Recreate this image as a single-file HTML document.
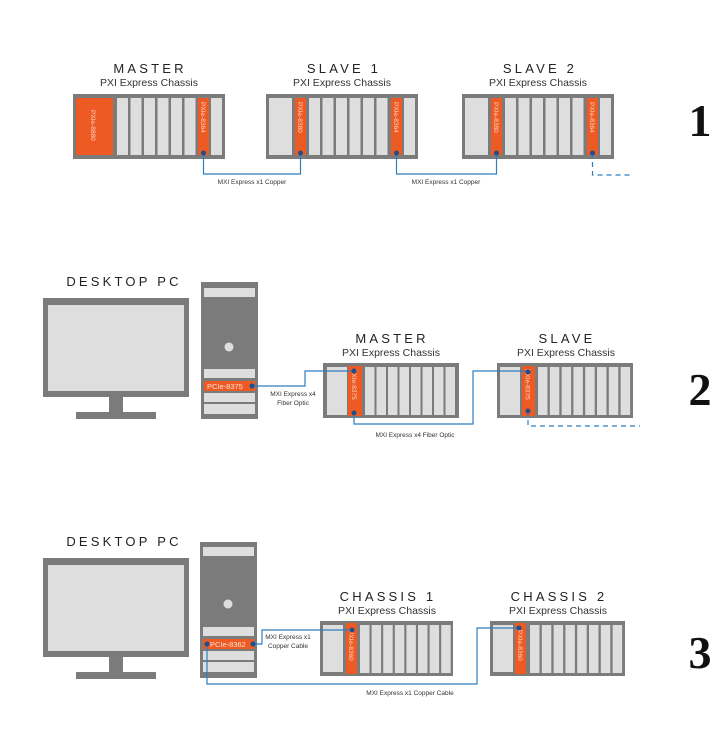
<!DOCTYPE html>
<html><head><meta charset="utf-8"><style>
html,body{margin:0;padding:0;background:#fff;width:723px;height:756px;overflow:hidden}
svg{display:block}
.t{font-family:"Liberation Sans",sans-serif;font-size:13px;letter-spacing:3.2px;fill:#222;text-anchor:middle}
.s{font-family:"Liberation Sans",sans-serif;font-size:10.5px;fill:#333;text-anchor:middle}
.c{font-family:"Liberation Sans",sans-serif;font-size:6.5px;fill:#333;text-anchor:middle}
.o{font-family:"Liberation Sans",sans-serif;font-size:6.5px;fill:#fbd3c0}
.n{font-family:"Liberation Serif",serif;font-size:46px;font-weight:bold;fill:#111;text-anchor:middle}
.g{fill:#7b7b7b}.l{fill:#dedede}.r{fill:#ee5a24}
.w{fill:none;stroke:#2f7fc1;stroke-width:1.2}
.d{fill:none;stroke:#2f7fc1;stroke-width:1.2;stroke-dasharray:5 4}
.dot{fill:#1f4e8c}
</style></head><body>
<svg width="723" height="756" viewBox="0 0 723 756">
<defs>
<g id="s1"><rect class="l" width="11" height="57"/></g>
<g id="s2"><rect class="l" width="9.5" height="48"/></g>
</defs>

<!-- ROW 1 -->
<text class="t" x="150" y="73">MASTER</text>
<text class="s" x="149" y="86">PXI Express Chassis</text>
<text class="t" x="344" y="73">SLAVE 1</text>
<text class="s" x="342" y="86">PXI Express Chassis</text>
<text class="t" x="540" y="73">SLAVE 2</text>
<text class="s" x="538" y="86">PXI Express Chassis</text>

<!-- master -->
<rect class="g" x="73" y="94" width="152" height="65"/>
<rect class="r" x="76" y="98" width="37" height="57"/>
<text class="o" transform="translate(91,110) rotate(90)">PXIe-8880</text>
<use href="#s1" x="117" y="98"/><use href="#s1" x="130.5" y="98"/><use href="#s1" x="144" y="98"/><use href="#s1" x="157.5" y="98"/><use href="#s1" x="171" y="98"/><use href="#s1" x="184.5" y="98"/>
<rect class="r" x="198" y="98" width="11" height="57"/>
<text class="o" transform="translate(201,102) rotate(90)">PXIe-8364</text>
<use href="#s1" x="211" y="98"/>

<!-- slave 1 -->
<rect class="g" x="266" y="94" width="152" height="65"/>
<rect class="l" x="269" y="98" width="23" height="57"/>
<rect class="r" x="295" y="98" width="11" height="57"/>
<text class="o" transform="translate(298,102) rotate(90)">PXIe-8380</text>
<use href="#s1" x="309" y="98"/><use href="#s1" x="322.5" y="98"/><use href="#s1" x="336" y="98"/><use href="#s1" x="349.5" y="98"/><use href="#s1" x="363" y="98"/><use href="#s1" x="376.5" y="98"/>
<rect class="r" x="391" y="98" width="11" height="57"/>
<text class="o" transform="translate(394,102) rotate(90)">PXIe-8364</text>
<use href="#s1" x="404" y="98"/>

<!-- slave 2 -->
<rect class="g" x="462" y="94" width="152" height="65"/>
<rect class="l" x="465" y="98" width="23" height="57"/>
<rect class="r" x="491" y="98" width="11" height="57"/>
<text class="o" transform="translate(494,102) rotate(90)">PXIe-8380</text>
<use href="#s1" x="505" y="98"/><use href="#s1" x="518.5" y="98"/><use href="#s1" x="532" y="98"/><use href="#s1" x="545.5" y="98"/><use href="#s1" x="559" y="98"/><use href="#s1" x="572.5" y="98"/>
<rect class="r" x="587" y="98" width="11" height="57"/>
<text class="o" transform="translate(590,102) rotate(90)">PXIe-8364</text>
<use href="#s1" x="600" y="98"/>

<polyline class="w" points="203.5,153 203.5,174 300.5,174 300.5,153"/>
<polyline class="w" points="396.5,153 396.5,174 496.5,174 496.5,153"/>
<polyline class="d" points="592.5,153 592.5,175 630,175"/>
<circle class="dot" cx="203.5" cy="153" r="2.5"/><circle class="dot" cx="300.5" cy="153" r="2.5"/>
<circle class="dot" cx="396.5" cy="153" r="2.5"/><circle class="dot" cx="496.5" cy="153" r="2.5"/>
<circle class="dot" cx="592.5" cy="153" r="2.5"/>
<text class="c" x="252" y="184">MXI Express x1 Copper</text>
<text class="c" x="446" y="184">MXI Express x1 Copper</text>
<text class="n" x="700" y="136">1</text>

<!-- ROW 2 -->
<text class="t" x="124" y="286">DESKTOP PC</text>
<rect class="g" x="43" y="298" width="146" height="99"/>
<rect class="l" x="48" y="305" width="136" height="86"/>
<rect class="g" x="109" y="396" width="14" height="16"/>
<rect class="g" x="76" y="412" width="80" height="7"/>
<rect class="g" x="201" y="282" width="57" height="137"/>
<rect class="l" x="204" y="288" width="51" height="9"/>
<circle cx="229" cy="347" r="4.5" fill="#dedede"/>
<rect class="l" x="204" y="369" width="51" height="9"/>
<rect class="r" x="204" y="381" width="51" height="10"/>
<text x="207" y="389" font-family="Liberation Sans,sans-serif" font-size="7.5" fill="#fde3d6">PCIe-8375</text>
<rect class="l" x="204" y="393" width="51" height="9"/>
<rect class="l" x="204" y="404" width="51" height="10"/>

<text class="t" x="392" y="343">MASTER</text>
<text class="s" x="391" y="356">PXI Express Chassis</text>
<rect class="g" x="323" y="363" width="136" height="55"/>
<rect class="l" x="327" y="367" width="20" height="48"/>
<rect class="r" x="348" y="366" width="14" height="50"/>
<text class="o" transform="translate(352,369) rotate(90)">PXIe-8375</text>
<use href="#s2" x="365" y="367"/><use href="#s2" x="376.5" y="367"/><use href="#s2" x="388" y="367"/><use href="#s2" x="399.5" y="367"/><use href="#s2" x="411" y="367"/><use href="#s2" x="422.5" y="367"/><use href="#s2" x="434" y="367"/><use href="#s2" x="445.5" y="367"/>

<text class="t" x="567" y="343">SLAVE</text>
<text class="s" x="566" y="356">PXI Express Chassis</text>
<rect class="g" x="497" y="363" width="136" height="55"/>
<rect class="l" x="500" y="367" width="20" height="48"/>
<rect class="r" x="522" y="366" width="13" height="50"/>
<text class="o" transform="translate(525.5,369) rotate(90)">PXIe-8375</text>
<use href="#s2" x="538" y="367"/><use href="#s2" x="549.8" y="367"/><use href="#s2" x="561.6" y="367"/><use href="#s2" x="573.4" y="367"/><use href="#s2" x="585.2" y="367"/><use href="#s2" x="597" y="367"/><use href="#s2" x="608.8" y="367"/><use href="#s2" x="620.6" y="367"/>

<polyline class="w" points="252,386 305,386 305,371 354,371"/>
<polyline class="w" points="354,413 354,424 473,424 473,371 528,371"/>
<polyline class="d" points="528,411 528,426 640,426"/>
<circle class="dot" cx="252" cy="386" r="2.5"/><circle class="dot" cx="354" cy="371" r="2.5"/>
<circle class="dot" cx="354" cy="413" r="2.5"/><circle class="dot" cx="528" cy="372" r="2.5"/>
<circle class="dot" cx="528" cy="411" r="2.5"/>
<text class="c" x="293" y="396">MXI Express x4</text>
<text class="c" x="293" y="405">Fiber Optic</text>
<text class="c" x="415" y="437">MXI Express x4 Fiber Optic</text>
<text class="n" x="700" y="405">2</text>

<!-- ROW 3 -->
<text class="t" x="124" y="546">DESKTOP PC</text>
<rect class="g" x="43" y="558" width="146" height="99"/>
<rect class="l" x="48" y="565" width="136" height="86"/>
<rect class="g" x="109" y="656" width="14" height="16"/>
<rect class="g" x="76" y="672" width="80" height="7"/>
<rect class="g" x="200" y="542" width="57" height="136"/>
<rect class="l" x="203" y="547" width="51" height="9"/>
<circle cx="228" cy="604" r="4.5" fill="#dedede"/>
<rect class="l" x="203" y="627" width="51" height="9"/>
<rect class="r" x="203" y="639" width="51" height="10"/>
<text x="210" y="647" font-family="Liberation Sans,sans-serif" font-size="7.5" fill="#fde3d6">PCIe-8362</text>
<rect class="l" x="203" y="651" width="51" height="9"/>
<rect class="l" x="203" y="662" width="51" height="10"/>

<text class="t" x="388" y="601">CHASSIS 1</text>
<text class="s" x="387" y="614">PXI Express Chassis</text>
<rect class="g" x="320" y="621" width="133" height="55"/>
<rect class="l" x="323" y="625" width="20" height="47"/>
<rect class="r" x="346" y="623" width="11" height="51"/>
<text class="o" transform="translate(349,630) rotate(90)">PXIe-8360</text>
<use href="#s2" x="360" y="625"/><use href="#s2" x="371.6" y="625"/><use href="#s2" x="383.2" y="625"/><use href="#s2" x="394.8" y="625"/><use href="#s2" x="406.4" y="625"/><use href="#s2" x="418" y="625"/><use href="#s2" x="429.6" y="625"/><use href="#s2" x="441.2" y="625"/>

<text class="t" x="559" y="601">CHASSIS 2</text>
<text class="s" x="558" y="614">PXI Express Chassis</text>
<rect class="g" x="490" y="621" width="135" height="55"/>
<rect class="l" x="493" y="625" width="20" height="47"/>
<rect class="r" x="515" y="623" width="11" height="51"/>
<text class="o" transform="translate(518,630) rotate(90)">PXIe-8360</text>
<use href="#s2" x="530" y="625"/><use href="#s2" x="541.8" y="625"/><use href="#s2" x="553.6" y="625"/><use href="#s2" x="565.4" y="625"/><use href="#s2" x="577.2" y="625"/><use href="#s2" x="589" y="625"/><use href="#s2" x="600.8" y="625"/><use href="#s2" x="612.6" y="625"/>

<polyline class="w" points="253,644 262,644 262,630 352,630"/>
<polyline class="w" points="207,644 207,684 477,684 477,628 519,628"/>
<circle class="dot" cx="207" cy="644" r="2.5"/><circle class="dot" cx="253" cy="644" r="2.5"/>
<circle class="dot" cx="352" cy="630" r="2.5"/><circle class="dot" cx="519" cy="628" r="2.5"/>
<text class="c" x="288" y="639">MXI Express x1</text>
<text class="c" x="288" y="648">Copper Cable</text>
<text class="c" x="410" y="695">MXI Express x1 Copper Cable</text>
<text class="n" x="700" y="668">3</text>
</svg>
</body></html>
